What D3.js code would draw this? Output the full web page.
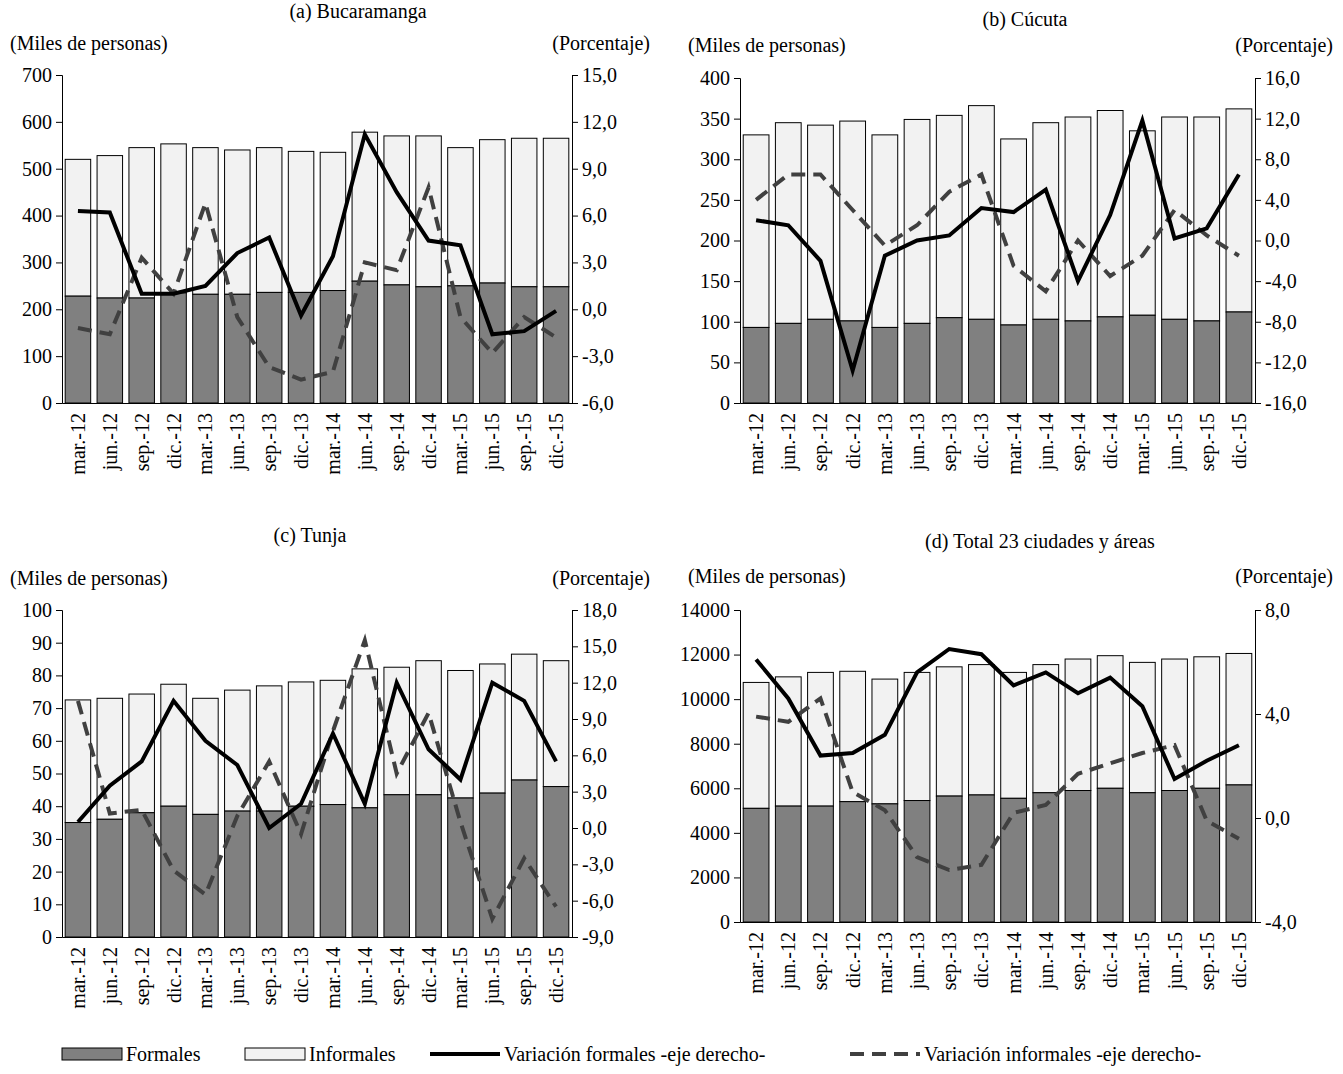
<!DOCTYPE html>
<html><head><meta charset="utf-8">
<script src="https://cdn.jsdelivr.net/npm/d3@7"></script>
<style>body{margin:0;background:#fff}text{font-family:"Liberation Serif",serif}</style>
</head><body>
<script>
var cats=["mar.-12","jun.-12","sep.-12","dic.-12","mar.-13","jun.-13","sep.-13","dic.-13","mar.-14","jun.-14","sep.-14","dic.-14","mar.-15","jun.-15","sep.-15","dic.-15"];

var bucTotal=[520,528,545,553,545,540,545,537,535,578,570,570,545,562,565,565];
var bucForm=[228,224,224,235,232,232,236,236,240,260,252,248,250,256,248,248];
var bucVarF=[6.3,6.2,1.0,1.0,1.5,3.6,4.6,-0.4,3.4,11.2,7.5,4.4,4.1,-1.6,-1.4,-0.1];
var bucVarI=[-1.2,-1.6,3.3,1.0,6.8,-0.5,-3.7,-4.5,-4.0,3.0,2.5,7.8,-0.5,-2.8,-0.5,-1.8];

var cucTotal=[330,345,342,347,330,349,354,366,325,345,352,360,335,352,352,362];
var cucForm=[93,98,103,101,93,98,105,103,96,103,101,106,108,103,101,112];
var cucVarF=[2.0,1.5,-2.0,-12.8,-1.5,0.0,0.5,3.2,2.8,5.0,-4.0,2.5,11.8,0.2,1.2,6.5];
var cucVarI=[4.0,6.5,6.5,3.0,-0.5,1.5,4.8,6.5,-2.5,-5.0,0.0,-3.5,-1.5,3.0,0.5,-1.5];

var tunTotal=[72.5,73,74.3,77.3,73,75.5,76.8,78,78.5,82,82.5,84.5,81.5,83.5,86.5,84.5];
var tunForm=[35,36,38,40,37.5,38.5,38.5,40,40.5,39.5,43.5,43.5,42.5,44,48,46];
var tunVarF=[0.5,3.5,5.5,10.5,7.2,5.2,0.0,2.0,7.8,2.0,12.0,6.5,4.0,12.0,10.5,5.5];
var tunVarI=[10.5,1.2,1.5,-3.5,-5.5,1.0,5.5,-0.5,8.0,15.5,4.5,9.5,0.5,-7.5,-2.5,-6.5];

var totTotal=[10750,11000,11200,11250,10900,11200,11450,11550,11200,11550,11800,11950,11650,11800,11900,12050];
var totForm=[5100,5200,5200,5400,5300,5450,5650,5700,5550,5800,5900,6000,5800,5900,6000,6150];
var totVarF=[6.1,4.6,2.4,2.5,3.2,5.6,6.5,6.3,5.1,5.6,4.8,5.4,4.3,1.5,2.2,2.8];
var totVarI=[3.9,3.7,4.6,1.0,0.3,-1.5,-2.0,-1.8,0.2,0.5,1.7,2.1,2.5,2.8,-0.1,-0.8];

var svg=d3.select("body").append("svg").attr("width",1343).attr("height",1074);
var fmt=function(v){return d3.format(".1f")(v).replace(".",",").replace("−","-");};

function panel(c){
  var g=svg.append("g");
  var x=d3.scaleBand().domain(cats).range([c.x0,c.x1]).paddingInner(0.2).paddingOuter(0.1);
  var yl=d3.scaleLinear().domain(c.ld).range([c.yb,c.yt]);
  var yr=d3.scaleLinear().domain(c.rd).range([c.yb,c.yt]);
  g.append("text").attr("x",c.tx).attr("y",c.ty).attr("text-anchor","middle").attr("font-size",20).text(c.title);
  g.append("text").attr("x",c.x0-52).attr("y",c.uy).attr("font-size",20).text("(Miles de personas)");
  g.append("text").attr("x",c.x1+78).attr("y",c.uy).attr("text-anchor","end").attr("font-size",20).text("(Porcentaje)");
  cats.forEach(function(k,i){
    g.append("rect").attr("x",x(k)).attr("width",x.bandwidth()).attr("y",yl(c.total[i])).attr("height",yl(c.form[i])-yl(c.total[i]))
      .attr("fill","#f2f2f2").attr("stroke","#000").attr("stroke-width",1);
    g.append("rect").attr("x",x(k)).attr("width",x.bandwidth()).attr("y",yl(c.form[i])).attr("height",c.yb-yl(c.form[i]))
      .attr("fill","#808080").attr("stroke","#000").attr("stroke-width",1);
  });
  var la=g.append("g").attr("transform","translate("+c.x0+",0)").call(d3.axisLeft(yl).tickValues(c.lt).tickSize(6).tickFormat(d3.format("d")));
  var ra=g.append("g").attr("transform","translate("+c.x1+",0)").call(d3.axisRight(yr).tickValues(c.rt).tickSize(6).tickFormat(fmt));
  var ba=g.append("g").attr("transform","translate(0,"+c.yb+")").call(d3.axisBottom(x).tickSize(0));
  [la,ra,ba].forEach(function(a){a.selectAll("text").attr("font-size",20).attr("fill","#000").style("font-family","Liberation Serif");a.selectAll("path,line").attr("stroke","#000");});
  la.selectAll("text").attr("x",-10);ra.selectAll("text").attr("x",10);
  ba.selectAll("text").attr("transform","rotate(-90)").attr("text-anchor","end").attr("x",-10).attr("y",0).attr("dy","0.35em");
  var line=function(arr){return d3.line().x(function(d,i){return x(cats[i])+x.bandwidth()/2;}).y(function(d){return yr(d);})(arr);};
  g.append("path").attr("d",line(c.vi)).attr("fill","none").attr("stroke","#404040").attr("stroke-width",4).attr("stroke-dasharray","14,8");
  g.append("path").attr("d",line(c.vf)).attr("fill","none").attr("stroke","#000").attr("stroke-width",4);
}

panel({x0:62,x1:572,yt:75,yb:403,tx:358,ty:18,uy:50,title:"(a) Bucaramanga",ld:[0,700],lt:d3.range(0,701,100),rd:[-6,15],rt:[-6,-3,0,3,6,9,12,15],total:bucTotal,form:bucForm,vf:bucVarF,vi:bucVarI});
panel({x0:740,x1:1255,yt:78,yb:403,tx:1025,ty:26,uy:52,title:"(b) Cúcuta",ld:[0,400],lt:d3.range(0,401,50),rd:[-16,16],rt:d3.range(-16,17,4),total:cucTotal,form:cucForm,vf:cucVarF,vi:cucVarI});
panel({x0:62,x1:572,yt:610,yb:937,tx:310,ty:542,uy:585,title:"(c) Tunja",ld:[0,100],lt:d3.range(0,101,10),rd:[-9,18],rt:d3.range(-9,19,3),total:tunTotal,form:tunForm,vf:tunVarF,vi:tunVarI});
panel({x0:740,x1:1255,yt:610,yb:922,tx:1040,ty:548,uy:583,title:"(d) Total 23 ciudades y áreas",ld:[0,14000],lt:d3.range(0,14001,2000),rd:[-4,8],rt:[-4,0,4,8],total:totTotal,form:totForm,vf:totVarF,vi:totVarI});

// legend
var lg=svg.append("g").attr("font-size",20);
lg.append("rect").attr("x",62).attr("y",1048).attr("width",60).attr("height",12).attr("fill","#808080").attr("stroke","#000");
lg.append("text").attr("x",126).attr("y",1061).text("Formales");
lg.append("rect").attr("x",245).attr("y",1048).attr("width",60).attr("height",12).attr("fill","#f2f2f2").attr("stroke","#000");
lg.append("text").attr("x",309).attr("y",1061).text("Informales");
lg.append("line").attr("x1",430).attr("x2",500).attr("y1",1054).attr("y2",1054).attr("stroke","#000").attr("stroke-width",4);
lg.append("text").attr("x",504).attr("y",1061).text("Variación formales -eje derecho-");
lg.append("line").attr("x1",850).attr("x2",920).attr("y1",1054).attr("y2",1054).attr("stroke","#404040").attr("stroke-width",4).attr("stroke-dasharray","14,8");
lg.append("text").attr("x",924).attr("y",1061).text("Variación informales -eje derecho-");
</script>
</body></html>
